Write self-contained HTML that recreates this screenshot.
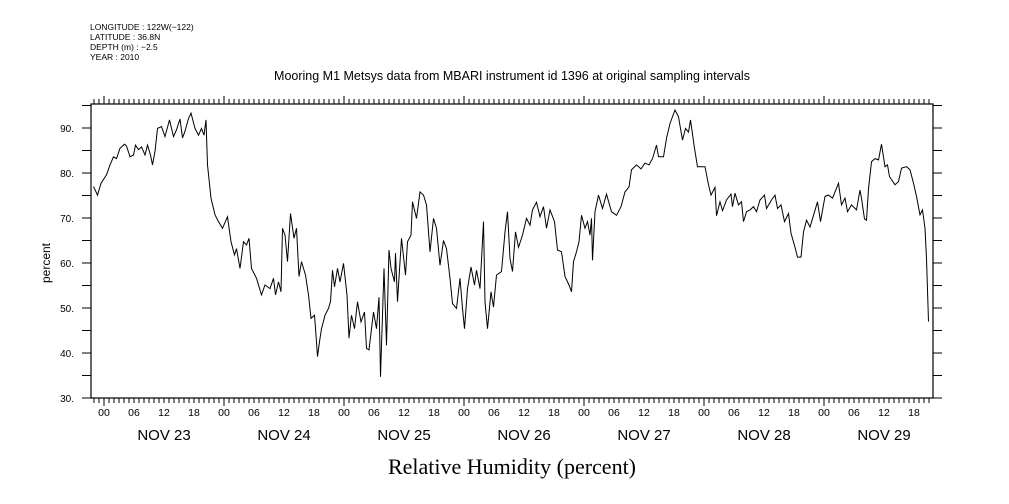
<!DOCTYPE html>
<html><head><meta charset="utf-8"><style>
html,body{margin:0;padding:0;background:#fff;}
svg{display:block;font-family:"Liberation Sans",sans-serif;}
</style></head><body>
<svg id="chart" width="1009" height="504" viewBox="0 0 1009 504" xmlns="http://www.w3.org/2000/svg">
<g font-size="8.5" fill="#000">
<text x="90" y="30">LONGITUDE : 122W(−122)</text>
<text x="90" y="40">LATITUDE : 36.8N</text>
<text x="90" y="50">DEPTH (m) : −2.5</text>
<text x="90" y="60">YEAR : 2010</text>
</g>
<text x="512" y="80" text-anchor="middle" font-size="12.5">Mooring M1 Metsys data from MBARI instrument id 1396 at original sampling intervals</text>
<text x="512" y="474" text-anchor="middle" font-size="22" font-family="Liberation Serif, serif">Relative Humidity (percent)</text>
<text transform="translate(50,263) rotate(-90)" text-anchor="middle" font-size="12">percent</text>
<rect x="91" y="104" width="842" height="294" fill="none" stroke="#000" stroke-width="1.2"/>
<g id="axes"></g>
<path id="series" fill="none" stroke="#000" stroke-width="1"/>
</svg>
<script>
const hours = [-2.1,-1.3,-0.6,0.5,1.2,1.9,2.5,3.2,4.1,4.5,5.2,5.9,6.3,6.9,7.5,8.2,8.7,9.3,9.7,10.2,10.7,11.5,12.2,13.1,13.9,14.5,15.2,15.7,16.2,16.9,17.4,18.2,18.9,19.5,20,20.4,20.7,21.4,22.2,22.9,23.7,24.7,25.4,26.1,26.5,27.2,27.9,28.5,29,29.5,30.5,31.5,32.2,33.2,33.9,34.3,34.9,35.4,35.7,36.2,36.7,37.3,38,38.5,39,39.5,40.3,40.9,41.4,42.1,42.4,42.7,43.1,43.5,44.2,44.9,45.3,45.7,46.1,46.7,47.2,47.9,48.6,49,49.5,50.1,50.7,51.4,52.1,52.5,53,53.9,54.5,55,55.3,56,56.5,57,57.4,58.1,58.3,58.7,59.5,60.3,60.7,61.4,61.7,62.5,63.2,63.9,64.5,65.2,65.9,66.5,67.2,67.9,68.5,69.2,69.7,70.5,71.2,71.7,72.1,72.7,73.4,74.1,74.5,75.2,75.9,76.2,76.7,77.4,77.9,78.5,79.5,80.2,80.7,81.2,81.7,82.3,82.9,83.7,84.5,85.2,85.7,86.5,87.2,87.9,88.5,89.2,90.1,90.7,91.5,92.2,93,93.5,93.9,94.5,95,95.5,96.2,96.7,97.2,97.5,97.7,98.2,98.9,99.7,100.5,101.5,102.5,103.4,104.2,105,105.5,106.5,107.4,108.2,109,109.7,110.5,110.9,111.9,112.5,113.2,114.2,114.9,115.7,116.3,116.9,117.3,118.1,118.7,119.5,120.2,120.9,121.4,122.2,122.5,123.2,123.7,124.5,125.4,125.7,126.2,126.9,127.5,127.9,128.5,129.2,129.9,130.5,131.2,132.1,132.5,133.5,134.2,134.7,135.4,136.1,136.9,137.4,138.2,138.7,139.4,139.9,140.5,141.2,141.9,142.7,143.3,144.2,144.9,145.7,146.9,147.5,148.2,148.7,149.5,150.5,151.2,151.5,152.1,152.5,152.9,153.5,154.2,154.9,155.5,156.2,156.7,157.1,158.2,158.9,159.5,160.5,161.2,161.9,162.5,163.2,163.7,164.2,164.5,164.9];
const humidity = [77,75.1,77.7,79.6,81.8,83.6,83.2,85.5,86.4,86,83.6,84,86.2,85.2,85.8,84,86.2,84,81.8,84.8,89.9,90.3,88.1,91.8,88.1,89.6,92,87.8,89.3,92.1,93.3,89.9,88.4,89.9,88.4,91.8,81.8,74.4,70.7,69.2,67.7,70.3,64.7,61.8,63.2,58.8,64.7,64,65.5,58.8,56.6,52.9,55.1,54.3,56.6,52.9,55.8,53.6,67.7,66.2,60.3,71,65.5,67.7,57,60.3,57.3,52.9,47.7,48.4,44,39.2,42.5,45.4,48.4,49.9,51.4,58.4,54.7,58.8,55.8,59.9,52.9,43.3,48.4,45.4,51.4,46.9,49.1,41,40.7,49.1,45.4,52.4,34.7,58.8,41.7,62.9,58.8,55.8,62.2,51.4,65.5,57.3,64.7,66.2,73.6,69.9,75.8,75.1,72.9,62.5,69.9,67.7,59.5,65,63.2,56.6,51,49.9,56.6,49.9,45.4,54.3,59.1,55.1,58.4,54.3,69.2,51.4,45.4,53.6,50.2,57.3,58.1,66.9,71.4,61,58.1,66.9,63.5,66.2,69.9,68.4,71.8,73.5,70.3,72.5,67.7,71.8,69.2,62.9,62.5,57,55.1,53.6,60.3,62.5,64.7,70.6,67.7,69.2,66.2,69.9,60.6,71.4,75.1,72.1,75.3,71.4,70.6,72.5,75.8,76.9,80.7,81.8,80.9,82.2,81.8,83.2,86.2,83.6,83.6,87.7,91,94,92.5,87.3,89.9,89.1,91.8,85.5,81.4,81.4,81.4,77.4,75.1,76.8,70.5,73.6,71.6,74,75.3,72.5,75.5,72.9,73.6,69.2,71.4,71.8,72.5,71.4,74,75.1,72.1,74,75.1,72.1,72.9,69.2,71,66.6,63.5,61.3,61.3,66.9,69.5,68,70.6,73.6,69.2,74.8,75.1,74.4,77.7,72.9,74.4,71.4,72.9,71.8,76.2,74.4,69.8,69.5,76.5,82.5,83.2,82.9,86.4,81.4,81.8,79.2,77.4,78.1,81.1,81.4,80.7,77.7,74.8,70.7,71.8,67.7,61,47];
const yTicks = [30,40,50,60,70,80,90];
const hourLabels = ["00","06","12","18"];
const dayLabels = ["NOV 23","NOV 24","NOV 25","NOV 26","NOV 27","NOV 28","NOV 29"];

const X0=91,X1=933,Y0=104,Y1=398;
const yMin=30, yMax=30+(Y1-Y0)/4.5;
const hMin=(X0-104)/5, hMax=(X1-104)/5;
function xs(h){return X0+(h-hMin)/(hMax-hMin)*(X1-X0);}
function ys(v){return Y1-(v-yMin)/(yMax-yMin)*(Y1-Y0);}

const NS="http://www.w3.org/2000/svg";
const axes=document.getElementById('axes');
function line(x1,y1,x2,y2,name){
  const l=document.createElementNS(NS,'line');
  l.setAttribute('x1',x1);l.setAttribute('y1',y1);l.setAttribute('x2',x2);l.setAttribute('y2',y2);
  l.setAttribute('stroke','#000');l.setAttribute('stroke-width','1');
  
  
  axes.appendChild(l);
}
function text(x,y,s,size,anchor,name){
  const t=document.createElementNS(NS,'text');
  t.setAttribute('x',x);t.setAttribute('y',y);t.setAttribute('font-size',size);
  t.setAttribute('text-anchor',anchor);t.textContent=s;
  
  
  axes.appendChild(t);
}
for(let v=30; v<=yMax; v+=5){
  const y=ys(v);
  line(X0-9,y,X0,y,'y-tick-left');
  line(X1,y,X1+9,y,'y-tick-right');
}
yTicks.forEach(v=>text(X0-17,ys(v)+4,v+'.',10,'end','y-tick-label'));
for(let h=Math.ceil(hMin); h<=hMax; h++){
  const x=xs(h);
  const major = (h%24===0);
  const len = major?8:5;
  line(x,Y0-len,x,Y0,'x-tick-top');
  line(x,Y1,x,Y1+len,'x-tick-bottom');
}
for(let h=0; h<=hMax; h+=6){
  text(xs(h),Y1+18,hourLabels[(h/6)%4],10.5,'middle','x-hour-label');
}
dayLabels.forEach((d,i)=>text(xs(i*24+12),Y1+42,d,15,'middle','x-day-label'));
let d='';
hours.forEach((h,i)=>{d+=(i?'L':'M')+xs(h).toFixed(1)+' '+ys(humidity[i]).toFixed(1);});
document.getElementById('series').setAttribute('d',d);
</script>
</body></html>
